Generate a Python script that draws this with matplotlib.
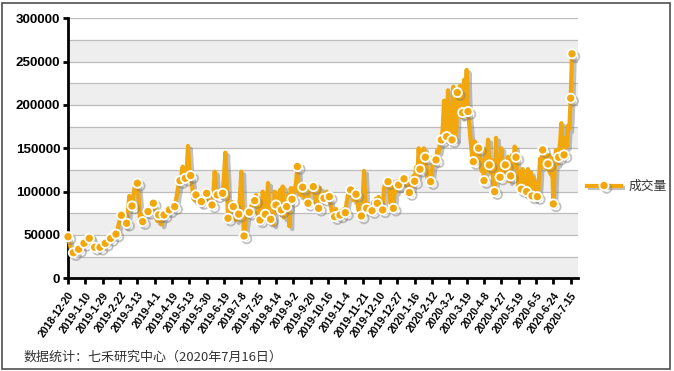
import numpy as np
import matplotlib
matplotlib.use("Agg")
import matplotlib.pyplot as plt
import matplotlib.patheffects as pe
from matplotlib.patches import Rectangle
from matplotlib.lines import Line2D

# ---------------- data ----------------
series_name = "成交量"
footer = "数据统计：七禾研究中心（2020年7月16日）"

tick_labels = [
    "2018-12-20", "2019-1-10", "2019-1-29", "2019-2-22", "2019-3-13", "2019-4-1",
    "2019-4-19", "2019-5-13", "2019-5-30", "2019-6-19", "2019-7-8", "2019-7-25",
    "2019-8-14", "2019-9-2", "2019-9-20", "2019-10-16", "2019-11-4", "2019-11-21",
    "2019-12-10", "2019-12-27", "2020-1-16", "2020-2-12", "2020-3-2", "2020-3-19",
    "2020-4-8", "2020-4-27", "2020-5-19", "2020-6-5", "2020-6-24", "2020-7-15",
]

volume = [
    48000, 42000, 35000, 31000, 29500, 31000, 33000, 34000, 33500, 36000,
    38000, 40000, 40400, 42000, 45000, 47000, 46200, 50000, 42000, 37000,
    35800, 36000, 34000, 35000, 35800, 37000, 39000, 40000, 40400, 42000,
    44000, 45000, 46000, 48000, 50000, 50500, 51000, 56000, 62000, 68000,
    72700, 68000, 62000, 60000, 63500, 78000, 95000, 88000, 83500, 96000,
    105000, 104000, 109700, 92000, 70000, 64000, 65400, 72000, 78000, 74000,
    77000, 82000, 76000, 80000, 86600, 80000, 70000, 66000, 73100, 70000,
    62000, 68000, 73100, 75000, 77000, 76000, 78900, 80000, 84000, 82000,
    82700, 90000, 100000, 108000, 112700, 118000, 128900, 116000, 115400, 125000,
    152700, 128000, 118500, 108000, 92000, 90000, 96200, 92000, 88000, 86000,
    88500, 94000, 98000, 100000, 98100, 92000, 86000, 85000, 84600, 98000,
    123000, 104000, 96200, 98000, 96000, 97000, 98100, 118000, 145000, 112000,
    69300, 74000, 80000, 88000, 82700, 76000, 67000, 70000, 74000, 95000,
    123000, 80000, 48800, 62000, 72000, 74000, 76200, 80000, 86000, 90000,
    89600, 96000, 80000, 66000, 67300, 72000, 100000, 85000, 73900, 80000,
    110000, 72000, 68100, 74000, 62000, 100000, 84600, 80000, 76000, 102000,
    78900, 106000, 70000, 78000, 82700, 96000, 60000, 104000, 91200, 104000,
    100000, 110000, 128900, 104000, 96000, 108000, 105100, 96000, 88000, 92000,
    86600, 106000, 100000, 102000, 105800, 96000, 86000, 84000, 80800, 104000,
    92000, 94000, 92400, 96000, 100000, 96000, 94200, 84000, 76000, 72000,
    71100, 80000, 74000, 72000, 73000, 78000, 76000, 80000, 75700, 88000,
    96000, 100000, 102000, 96000, 90000, 98000, 97000, 88000, 78000, 76000,
    71900, 90000, 123900, 90000, 80800, 86000, 80000, 82000, 78000, 88000,
    84000, 92000, 86600, 94000, 82000, 80000, 78900, 104000, 110000, 114000,
    111500, 100000, 86000, 106000, 80800, 104000, 100000, 112000, 107700, 104000,
    110000, 106000, 114800, 110000, 116000, 106000, 99000, 108000, 104000, 118000,
    112000, 128000, 118000, 150000, 125800, 148000, 124000, 150000, 139700, 126000,
    110000, 112000, 111500, 124000, 138000, 132000, 136600, 148000, 146000, 156000,
    159700, 172000, 205000, 168000, 163500, 217000, 180000, 168000, 159700, 221000,
    182000, 160000, 214300, 196000, 222000, 186000, 191200, 229000, 200000, 240500,
    192400, 176000, 158000, 142000, 134600, 158000, 148000, 136000, 150100, 140000,
    124000, 136000, 112700, 148000, 124000, 160000, 130800, 122000, 136000, 110000,
    100000, 162000, 118000, 136000, 116600, 150000, 124000, 134000, 130800, 118000,
    140000, 112000, 118100, 142000, 128000, 152000, 139700, 122000, 106000, 122000,
    102800, 126000, 98000, 112000, 100000, 126000, 96000, 122000, 95000, 116000,
    92000, 110000, 94200, 106000, 138000, 128000, 148100, 134000, 144000, 126000,
    132000, 142000, 120000, 138000, 85800, 128000, 148000, 132000, 139700, 156000,
    179000, 150000, 142400, 162000, 152000, 176000, 172000, 207800, 259000,
]

y_ticks = [0, 50000, 100000, 150000, 200000, 250000, 300000]

# ---------------- style ----------------
W, H = 674, 371
DPI = 100
LINE_C = "#F2A70C"
SHADOW = [pe.SimpleLineShadow(offset=(2.0, -2.0), shadow_color="#777777", alpha=0.45),
          pe.Normal()]
TICK_FONT = ["Liberation Sans", "DejaVu Sans"]
CJK_FONT = ["Noto Sans CJK SC", "DejaVu Sans"]

fig = plt.figure(figsize=(W / DPI, H / DPI), dpi=DPI)
ax = fig.add_axes([68 / W, 1 - 278.3 / H, (578 - 68) / W, (278.3 - 18.3) / H])

n = len(volume)
x = np.arange(n)

# alternating bands and grid lines
for lo in range(0, 300000, 50000):
    ax.axhspan(lo, lo + 25000, color="#EEEEEE", lw=0, zorder=0)
for g in range(25000, 300001, 25000):
    ax.axhline(g, color="#BDBDBD", lw=0.9, zorder=1)

marks = list(range(0, n - 4, 4)) + [n - 2, n - 1]
ax.plot(x, volume, color=LINE_C, lw=3.0, solid_joinstyle="round",
        solid_capstyle="round",
        marker="o", markevery=marks, markersize=6.6, markerfacecolor=LINE_C,
        markeredgecolor="white", markeredgewidth=1.3, zorder=6,
        path_effects=SHADOW, clip_on=False, label=series_name)

ax.set_xlim(0, 382.5)
ax.set_ylim(0, 300000)

for s in ("top", "right"):
    ax.spines[s].set_visible(False)
for s in ("left", "bottom"):
    ax.spines[s].set_linewidth(2.0)
    ax.spines[s].set_color("black")
    ax.spines[s].set_zorder(4)

ax.set_yticks(y_ticks)
ax.set_yticklabels([str(v) for v in y_ticks], fontfamily=TICK_FONT,
                   fontweight="bold", fontsize=9.6)
ax.tick_params(axis="y", direction="out", length=3.5, width=2, pad=2)

xt = x[::13]
ax.set_xticks(xt)
ax.set_xticklabels(tick_labels, rotation=55, ha="right", va="top",
                   rotation_mode="anchor", fontfamily=TICK_FONT,
                   fontweight="bold", fontsize=7.6)
ax.tick_params(axis="x", direction="out", length=4.5, width=2, pad=4)

# legend
handle = Line2D([], [], color=LINE_C, lw=3.0, marker="o", markersize=6.6,
                markerfacecolor=LINE_C, markeredgecolor="white",
                markeredgewidth=1.3, path_effects=SHADOW)
leg = fig.legend([handle], [series_name], loc="center left",
                 bbox_to_anchor=(581 / W, 1 - 186.5 / H), frameon=False,
                 handlelength=2.6, handletextpad=0.6, borderpad=0,
                 prop={"family": CJK_FONT, "size": 9.2})
for t in leg.get_texts():
    t.set_color("#333333")

# footer
fig.text(24 / W, 1 - 357.5 / H, footer, ha="left", va="center",
         fontfamily=CJK_FONT, fontsize=9.4, color="#333333")

# outer frame
fig.patches.append(Rectangle((1.5 / W, 2.5 / H), (670 - 1.5) / W, (368.5 - 2.5) / H,
                             transform=fig.transFigure, fill=False,
                             edgecolor="#505050", lw=1.2))

fig.savefig("out.png", dpi=DPI)
